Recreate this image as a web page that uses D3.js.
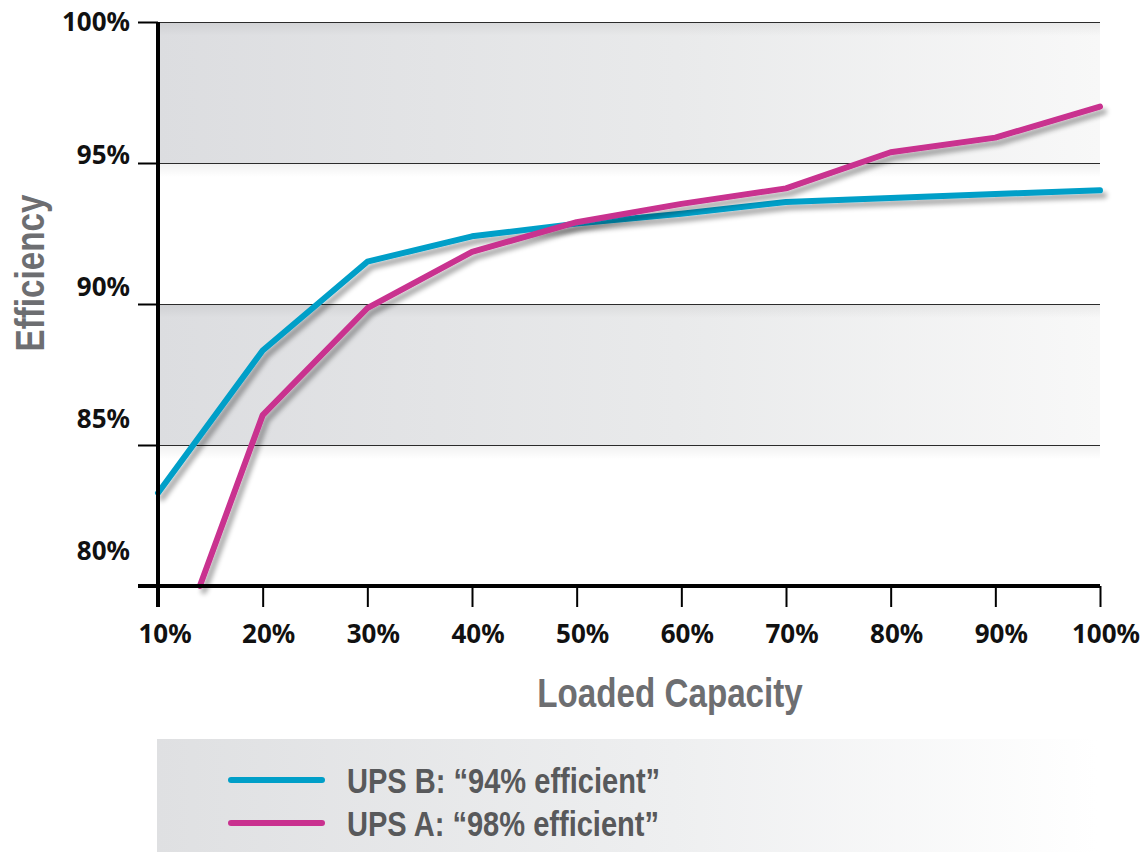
<!DOCTYPE html>
<html>
<head>
<meta charset="utf-8">
<script src="https://cdn.jsdelivr.net/npm/d3@7"></script>
<style>
  body { margin: 0; background: #fff; }
  svg { display: block; }
</style>
</head>
<body>
<svg id="chart"></svg>
<script>
var width = 1142;
var height = 852;

// data
var capacityTicks = [10, 20, 30, 40, 50, 60, 70, 80, 90, 100];
var efficiencyTicks = [80, 85, 90, 95, 100];
var shadedBands = [[95, 100], [85, 90]];

var upsBCapacity = [10, 20, 30, 40, 50, 60, 70, 80, 90, 100];
var upsBValues = [83.3, 88.35, 91.5, 92.4, 92.85, 93.2, 93.62, 93.76, 93.9, 94.03];

var upsACapacity = [14, 20, 30, 40, 50, 60, 70, 80, 90, 100];
var upsAValues = [80, 86.06, 89.85, 91.85, 92.9, 93.55, 94.1, 95.38, 95.9, 97.0];

var legendLabels = ["UPS B: \u201c94% efficient\u201d", "UPS A: \u201c98% efficient\u201d"];
var seriesColors = ["#009fc8", "#c9318f"];

var upsB = upsBCapacity.map((c, i) => ({ c: c, v: upsBValues[i] }));
var upsA = upsACapacity.map((c, i) => ({ c: c, v: upsAValues[i] }));

var plotLeft = 158, plotRight = 1100, plotTop = 22, plotBottom = 586;
var condensed = 0.83; // no condensed font installed, squeeze the titles instead

var xScale = d3.scaleLinear().domain([10, 100]).range([plotLeft, plotRight]);
var yScale = d3.scaleLinear().domain([80, 100]).range([plotBottom, plotTop]);
// tick labels in the original drift a bit from their ticks
var yLabelScale = d3.scaleLinear().domain([80, 100]).range([551, 22]);

var svg = d3.select("#chart").attr("width", width).attr("height", height);
var defs = svg.append("defs");

var bandGrad = defs.append("linearGradient").attr("id", "bandGrad");
bandGrad.append("stop").attr("offset", "0%").attr("stop-color", "#dcdde0");
bandGrad.append("stop").attr("offset", "55%").attr("stop-color", "#e9eaeb");
bandGrad.append("stop").attr("offset", "100%").attr("stop-color", "#f8f8f8");

var legendGrad = defs.append("linearGradient").attr("id", "legendGrad");
legendGrad.append("stop").attr("offset", "0%").attr("stop-color", "#dfe0e2");
legendGrad.append("stop").attr("offset", "55%").attr("stop-color", "#eeeff0");
legendGrad.append("stop").attr("offset", "100%").attr("stop-color", "#ffffff");

var shadeGrad = defs.append("linearGradient").attr("id", "shadeGrad")
  .attr("x1", 0).attr("y1", 0).attr("x2", 0).attr("y2", 1);
shadeGrad.append("stop").attr("offset", "0%").attr("stop-color", "#000").attr("stop-opacity", 0.06);
shadeGrad.append("stop").attr("offset", "100%").attr("stop-color", "#000").attr("stop-opacity", 0);

var shadow = defs.append("filter").attr("id", "shadow")
  .attr("x", "-10%").attr("y", "-10%").attr("width", "120%").attr("height", "130%");
shadow.append("feGaussianBlur").attr("in", "SourceAlpha").attr("stdDeviation", 2.5).attr("result", "blur");
shadow.append("feOffset").attr("in", "blur").attr("dx", 4).attr("dy", 5).attr("result", "off");
shadow.append("feComponentTransfer").attr("in", "off").attr("result", "soft")
  .append("feFuncA").attr("type", "linear").attr("slope", 0.35);
var merge = shadow.append("feMerge");
merge.append("feMergeNode").attr("in", "soft");
merge.append("feMergeNode").attr("in", "SourceGraphic");

// Shaded bands
svg.append("g")
  .selectAll("rect")
  .data(shadedBands)
  .enter()
  .append("rect")
    .attr("x", plotLeft)
    .attr("y", d => yScale(d[1]))
    .attr("width", plotRight - plotLeft)
    .attr("height", d => yScale(d[0]) - yScale(d[1]))
    .attr("fill", "url(#bandGrad)");

// soft shadow under each grid line
svg.append("g")
  .selectAll("rect")
  .data(efficiencyTicks.filter(d => d > 80))
  .enter()
  .append("rect")
    .attr("x", plotLeft)
    .attr("y", d => yScale(d))
    .attr("width", plotRight - plotLeft)
    .attr("height", 14)
    .attr("fill", "url(#shadeGrad)");

// Grid lines
svg.append("g")
  .attr("transform", `translate(${plotLeft}, 0)`)
  .call(d3.axisRight(yScale).tickValues(efficiencyTicks.filter(d => d > 80)).tickSize(plotRight - plotLeft).tickFormat(""))
  .call(g => g.select(".domain").remove())
  .call(g => g.selectAll(".tick line").attr("stroke", "#2b2b2b").attr("stroke-width", 1.2));

// Series lines
var line = d3.line().x(d => xScale(d.c)).y(d => yScale(d.v));

svg.append("g")
  .selectAll("path")
  .data([upsB, upsA])
  .enter()
  .append("path")
    .attr("d", line)
    .attr("fill", "none")
    .attr("stroke", (d, i) => seriesColors[i])
    .attr("stroke-width", 6)
    .attr("stroke-linecap", "round")
    .attr("stroke-linejoin", "round")
    .attr("filter", "url(#shadow)");

// Y axis
var yAxis = svg.append("g")
  .attr("transform", `translate(${plotLeft}, 0)`)
  .call(d3.axisLeft(yScale).tickValues(efficiencyTicks).tickSize(20).tickFormat(""));
yAxis.select(".domain").remove();
yAxis.selectAll(".tick line").attr("stroke", "#000").attr("stroke-width", 2);

// X axis
var xAxis = svg.append("g")
  .attr("transform", `translate(0, ${plotBottom})`)
  .call(d3.axisBottom(xScale).tickValues(capacityTicks).tickSize(21).tickFormat(""));
xAxis.select(".domain").remove();
xAxis.selectAll(".tick line").attr("stroke", "#000").attr("stroke-width", 2);

// heavy axis lines
svg.append("line")
  .attr("x1", plotLeft).attr("x2", plotLeft)
  .attr("y1", yScale(100)).attr("y2", plotBottom + 21)
  .attr("stroke", "#000").attr("stroke-width", 4);
svg.append("line")
  .attr("x1", plotLeft - 20).attr("x2", plotRight)
  .attr("y1", plotBottom).attr("y2", plotBottom)
  .attr("stroke", "#000").attr("stroke-width", 4);

// Y tick labels
svg.append("g")
  .selectAll("text")
  .data(efficiencyTicks)
  .enter()
  .append("text")
    .attr("x", 130)
    .attr("y", d => yLabelScale(d))
    .attr("dy", "0.36em")
    .attr("text-anchor", "end")
    .style("font-family", "'Noto Sans', sans-serif")
    .style("font-weight", "bold")
    .style("font-size", "26px")
    .attr("fill", "#111")
    .text(d => d + "%");

// X tick labels
svg.append("g")
  .selectAll("text")
  .data(capacityTicks)
  .enter()
  .append("text")
    .attr("x", d => xScale(d) + (d === 10 ? 7 : 6))
    .attr("y", 643)
    .attr("text-anchor", "middle")
    .style("font-family", "'Noto Sans', sans-serif")
    .style("font-weight", "bold")
    .style("font-size", "26px")
    .attr("fill", "#111")
    .text(d => d + "%");

// Axis titles
svg.append("text")
  .attr("transform", `translate(670, 707) scale(${condensed}, 1)`)
  .attr("text-anchor", "middle")
  .style("font-family", "'Liberation Sans', sans-serif")
  .style("font-weight", "bold")
  .style("font-size", "40px")
  .attr("fill", "#6d6e71")
  .text("Loaded Capacity");

svg.append("text")
  .attr("transform", `translate(44, 273) rotate(-90) scale(${condensed}, 1)`)
  .attr("text-anchor", "middle")
  .style("font-family", "'Liberation Sans', sans-serif")
  .style("font-weight", "bold")
  .style("font-size", "40px")
  .attr("fill", "#6d6e71")
  .text("Efficiency");

// Legend
var legend = svg.append("g");
legend.append("rect")
  .attr("x", 157).attr("y", 739)
  .attr("width", 940).attr("height", height - 739)
  .attr("fill", "url(#legendGrad)");

var items = legend.selectAll("g")
  .data(legendLabels)
  .enter()
  .append("g")
    .attr("transform", (d, i) => `translate(0, ${780 + i * 43})`);

items.append("line")
  .attr("x1", 231).attr("x2", 322)
  .attr("stroke", (d, i) => seriesColors[i])
  .attr("stroke-width", 6)
  .attr("stroke-linecap", "round");

items.append("text")
  .attr("transform", `translate(347, 0) scale(${condensed}, 1)`)
  .attr("dy", "0.36em")
  .style("font-family", "'Liberation Sans', sans-serif")
  .style("font-weight", "bold")
  .style("font-size", "35px")
  .attr("fill", "#58595b")
  .text(d => d);
</script>
</body>
</html>
